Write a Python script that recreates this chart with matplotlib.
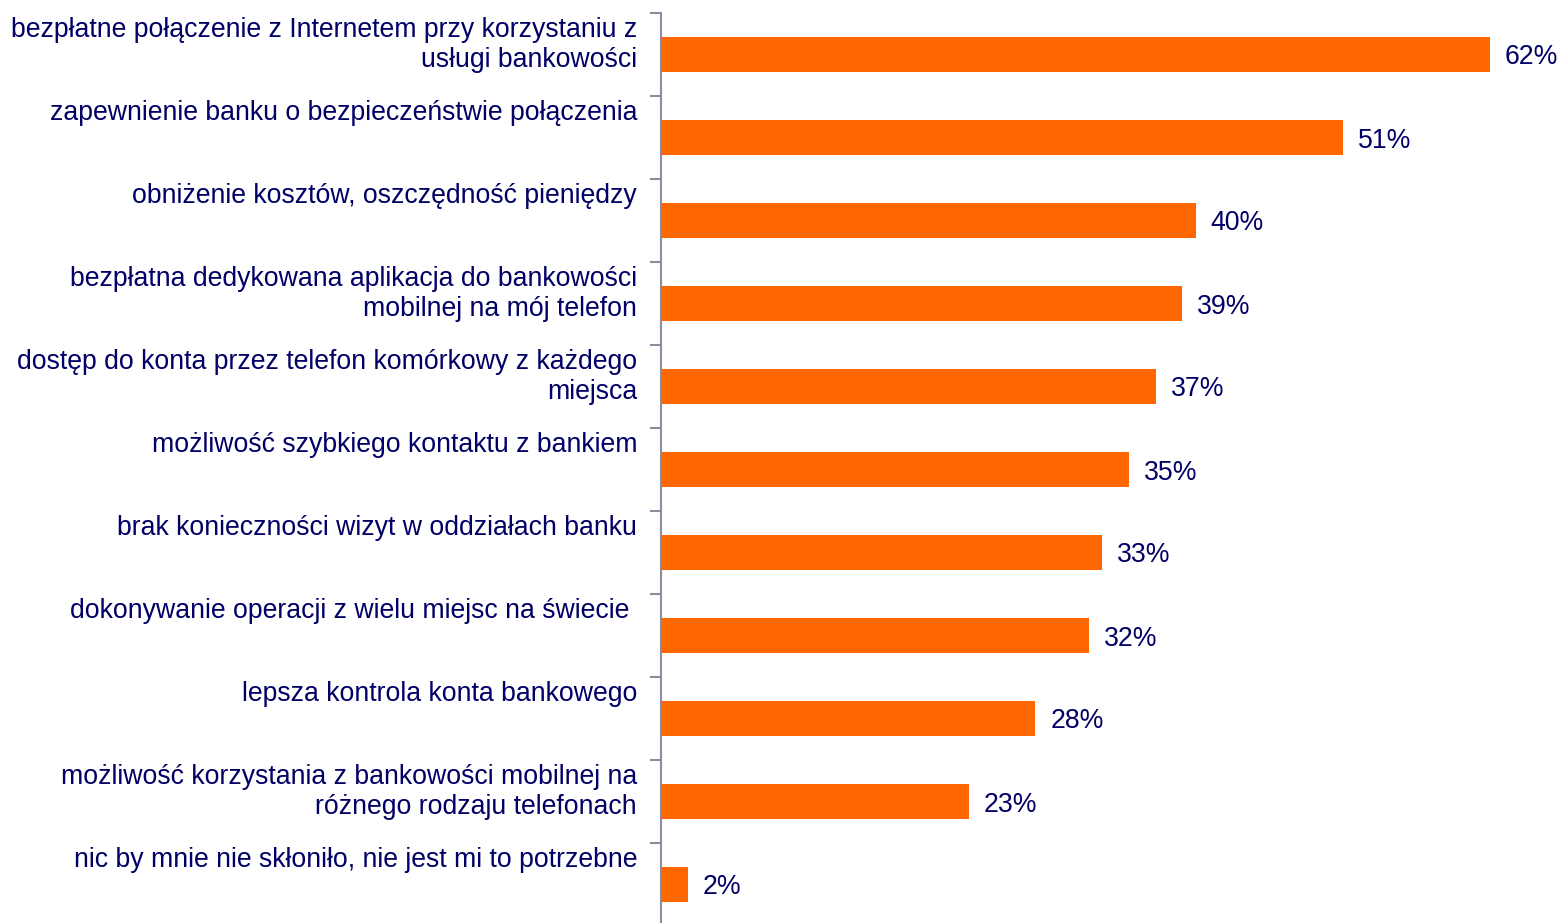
import matplotlib
matplotlib.use("Agg")
import matplotlib.pyplot as plt
from matplotlib.transforms import blended_transform_factory, offset_copy
import numpy as np

categories = [
    "bezpłatne połączenie z Internetem przy korzystaniu z\nusługi bankowości",
    "zapewnienie banku o bezpieczeństwie połączenia",
    "obniżenie kosztów, oszczędność pieniędzy",
    "bezpłatna dedykowana aplikacja do bankowości\nmobilnej na mój telefon",
    "dostęp do konta przez telefon komórkowy z każdego\nmiejsca",
    "możliwość szybkiego kontaktu z bankiem",
    "brak konieczności wizyt w oddziałach banku",
    "dokonywanie operacji z wielu miejsc na świecie ",
    "lepsza kontrola konta bankowego",
    "możliwość korzystania z bankowości mobilnej na\nróżnego rodzaju telefonach",
    "nic by mnie nie skłoniło, nie jest mi to potrzebne",
]
values = [62, 51, 40, 39, 37, 35, 33, 32, 28, 23, 2]
value_labels = [f"{v}%" for v in values]

BAR = "#FF6600"
TXT = "#000066"
AX = "#8C8CA0"

plt.rcParams['font.family'] = ['Liberation Sans', 'DejaVu Sans']

W, H = 1562, 923
fig = plt.figure(figsize=(W / 100, H / 100), dpi=100)
left_px, top_px, slot = 661, 13, 83
n = len(values)
bottom_px = top_px + n * slot
ax = fig.add_axes([left_px / W, (H - bottom_px) / H, (W - left_px) / W, (bottom_px - top_px) / H])

y = np.arange(n)
ax.barh(y, values, height=0.42, color=BAR)
ax.set_ylim(n - 0.5, -0.5)
ax.set_xlim(0, (W - left_px) / 13.37)

for s in ["top", "right", "bottom"]:
    ax.spines[s].set_visible(False)
ax.spines["left"].set_color(AX)
ax.spines["left"].set_linewidth(1.5)
ax.set_xticks([])
ax.set_yticks(np.arange(-0.5, n, 1.0))
ax.set_yticklabels([])
ax.tick_params(axis="y", length=8, width=1.5, color=AX, direction="out")

FS = 19.2
trans = blended_transform_factory(ax.transAxes, ax.transData)
for i, (cat, v, lab) in enumerate(zip(categories, values, value_labels)):
    t = offset_copy(trans, fig=fig, x=-24, y=-4, units="dots")
    ax.text(0, i - 0.5, cat, transform=t, ha="right", va="top",
            fontsize=FS, color=TXT, linespacing=1.2)
    ax.annotate(lab, (v, i), xytext=(15, -3), textcoords="offset pixels",
                ha="left", va="center", fontsize=FS, color=TXT)

fig.savefig("out.png", dpi=100)
